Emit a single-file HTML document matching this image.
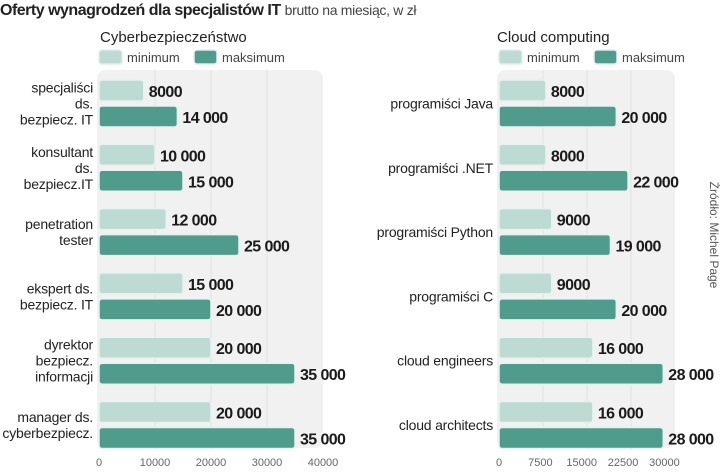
<!DOCTYPE html>
<html><head><meta charset="utf-8"><style>
body{margin:0;background:#fff;font-family:"Liberation Sans",sans-serif}
svg text{font-family:"Liberation Sans",sans-serif}
</style></head><body>
<svg id="c" width="720" height="471" viewBox="0 0 720 471">
<text x="0" y="15" font-size="16" fill="#222"><tspan font-weight="bold" letter-spacing="-0.5">Oferty wynagrodzeń dla specjalistów IT</tspan><tspan fill="#444" dx="4" font-size="14" letter-spacing="-0.3">brutto na miesiąc, w zł</tspan></text>
<text x="100" y="42" font-size="15" fill="#222">Cyberbezpieczeństwo</text>
<text x="497" y="42" font-size="15" fill="#222">Cloud computing</text>
<text transform="translate(710,235) rotate(90)" font-size="12" fill="#555" text-anchor="middle">Źródło: Michel Page</text>
<g id="plots"></g>
</svg>
<script>
const leftCategories=[["specjaliści","ds.","bezpiecz. IT"],["konsultant","ds.","bezpiecz.IT"],["penetration","tester"],["ekspert ds.","bezpiecz. IT"],["dyrektor","bezpiecz.","informacji"],["manager ds.","cyberbezpiecz."]];
const leftMin=[8000,10000,12000,15000,20000,20000];
const leftMax=[14000,15000,25000,20000,35000,35000];
const leftTicks=[0,10000,20000,30000,40000];
const rightCategories=[["programiści Java"],["programiści .NET"],["programiści Python"],["programiści C"],["cloud engineers"],["cloud architects"]];
const rightMin=[8000,8000,9000,9000,16000,16000];
const rightMax=[20000,22000,19000,20000,28000,28000];
const rightTicks=[0,7500,15000,22500,30000];

const NS="http://www.w3.org/2000/svg";
const root=document.getElementById('plots');
function el(t,a,p){const e=document.createElementNS(NS,t);for(const k in a)e.setAttribute(k,a[k]);(p||root).appendChild(e);return e;}
function fmt(v){return v>=10000?String(v).replace(/(\d)(?=(\d{3})$)/,'$1 '):String(v);}
function panel(name,x0,xMaxPx,maxV,cats,mins,maxs,ticks,tickScale){
  const x=v=>x0+v/maxV*(xMaxPx-x0);
  const xt=v=>x0+v/maxV*(xMaxPx-x0)*tickScale;
  const yTop=72,pitch=64.3,bh=21;
  const g=el('g',{});
  
  
  const bg=el('rect',{x:x0-2,y:yTop-2,width:xMaxPx-x0+2,height:378,rx:8,fill:'#f1f1f1'},g);
  
  
  ticks.forEach((t,i)=>{
    if(i>0&&i<ticks.length-1){const gl=el('line',{x1:x(t),x2:x(t),y1:yTop-2,y2:450,stroke:'#e2e2e2','stroke-width':1},g);
      
      }
    const tl=el('text',{x:xt(t),y:466,'font-size':11,fill:'#666','text-anchor':'middle'},g);
    tl.textContent=t;
    
    
  });
  cats.forEach((c,i)=>{
    const gy=yTop+8+i*pitch;
    [[mins[i],'#bddbd2','min'],[maxs[i],'#4f9b8c','max']].forEach(([v,col,k],j)=>{
      const y=gy+j*26;
      const r=el('rect',{x:x0,y:y,width:x(v)-x0,height:bh,rx:3,fill:col,stroke:'#e8f2ef','stroke-width':1.5},g);
      
      
      const t=el('text',{x:x(v)+5,y:y+17,'font-size':16,'font-weight':'bold',fill:'#1a1a1a','letter-spacing':'-0.6'},g);
      t.textContent=fmt(v);
      
      
    });
    const cy=gy+23.5, lh=16, n=c.length;
    c.forEach((line,k)=>{
      const t=el('text',{x:x0-6,y:cy+(k-(n-1)/2)*lh+5,'font-size':14,fill:'#222','text-anchor':'end','letter-spacing':'-0.2'},g);
      t.textContent=line;
      
      
    });
  });
  [['minimum','#bddbd2',0],['maksimum','#4f9b8c',95]].forEach(([lab,col,dx])=>{
    const s=el('rect',{x:x0+dx,y:50,width:23,height:14,rx:3,fill:col,stroke:'#e0eeea','stroke-width':1.5},g);
    
    
    const t=el('text',{x:x0+dx+28,y:62,'font-size':13,fill:'#444'},g);
    t.textContent=lab;
    
    
  });
}
panel('left',99,323,40000,leftCategories,leftMin,leftMax,leftTicks,1);
panel('right',499,675,30000,rightCategories,rightMin,rightMax,rightTicks,0.94);
</script>
</body></html>
